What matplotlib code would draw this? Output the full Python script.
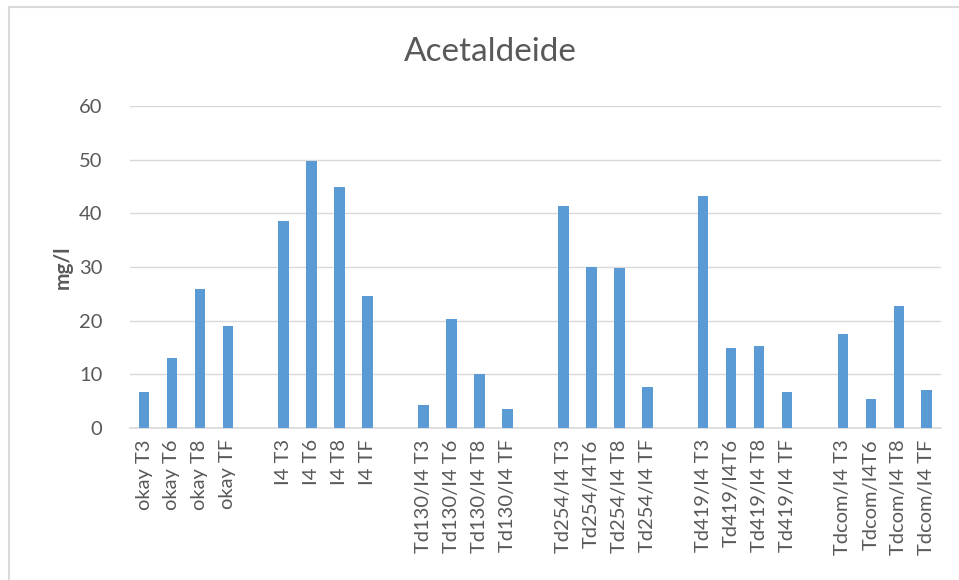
import numpy as np
import matplotlib.pyplot as plt
from matplotlib.patches import Rectangle

plt.rcParams['font.family'] = ['Lato', 'DejaVu Sans']

# data (blank slots separate the groups)
labels = ["okay T3", "okay T6", "okay T8", "okay TF", "",
          "I4 T3", "I4 T6", "I4 T8", "I4 TF", "",
          "Td130/I4 T3", "Td130/I4 T6", "Td130/I4 T8", "Td130/I4 TF", "",
          "Td254/I4 T3", "Td254/I4T6", "Td254/I4 T8", "Td254/I4 TF", "",
          "Td419/I4 T3", "Td419/I4T6", "Td419/I4 T8", "Td419/I4 TF", "",
          "Tdcom/I4 T3", "Tdcom/I4T6", "Tdcom/I4 T8", "Tdcom/I4 TF"]
values = [6.7, 13.0, 26.0, 19.0, np.nan,
          38.5, 49.8, 45.0, 24.7, np.nan,
          4.3, 20.3, 10.1, 3.6, np.nan,
          41.3, 30.1, 29.8, 7.6, np.nan,
          43.3, 15.0, 15.3, 6.8, np.nan,
          17.5, 5.5, 22.8, 7.0]

grey = '#595959'
fig = plt.figure(figsize=(9.59, 5.8), dpi=100)
ax = fig.add_axes([0.1356, 0.262, 0.8454, 0.555])

x = np.arange(len(labels))
ax.bar(x, values, width=0.38, color='#5B9BD5', zorder=3)

ax.set_xlim(-0.5, len(labels) - 0.5)
ax.set_ylim(0, 60)
ax.set_yticks(range(0, 61, 10))
ax.grid(axis='y', color='#D9D9D9', linewidth=1, zorder=0)
for s in ['top', 'right', 'left']:
    ax.spines[s].set_visible(False)
ax.spines['bottom'].set_color('#D9D9D9')
ax.spines['bottom'].set_linewidth(1.2)

ax.set_xticks(x)
ax.set_xticklabels(labels, rotation=90, fontsize=14.5, color=grey)
ax.tick_params(axis='both', length=0, colors=grey, labelsize=14.5)
ax.tick_params(axis='y', pad=20)
ax.tick_params(axis='x', pad=8)

ax.set_ylabel('mg/l', fontsize=15, color=grey, fontweight='bold', labelpad=4)
fig.text(0.511, 0.91, 'Acetaldeide', fontsize=24, color=grey,
         ha='center', va='center')

# chart frame (cropped on right and bottom)
fig.patches.append(Rectangle((9 / 959, -0.1), 1.2, 1 - 7 / 580 + 0.1,
                             transform=fig.transFigure, fill=False,
                             edgecolor='#D9D9D9', linewidth=1.5))

fig.savefig('out.png', dpi=100)
